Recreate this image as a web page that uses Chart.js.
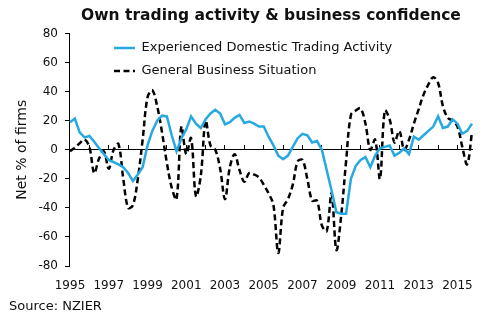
<!DOCTYPE html>
<html>
<head>
<meta charset="utf-8">
<script src="https://cdn.jsdelivr.net/npm/chart.js@4/dist/chart.umd.min.js"></script>
<style>
  html, body { margin: 0; padding: 0; background: #fff; }
  #wrap { width: 488px; height: 321px; }
</style>
</head>
<body>
<div id="wrap"><canvas id="myChart"></canvas></div>
<script>
// quarterly survey, 1995 Q1 - 2015 Q4
var years = [1995, 1996, 1997, 1998, 1999, 2000, 2001, 2002, 2003, 2004, 2005,
             2006, 2007, 2008, 2009, 2010, 2011, 2012, 2013, 2014, 2015];
var quarterNames = ["Q1", "Q2", "Q3", "Q4"];
var tickYears = ["1995", "1997", "1999", "2001", "2003", "2005", "2007", "2009", "2011", "2013", "2015"];

var tradingActivity = [
    19, 21.5, 12, 8.5,      // 1995
    9.5, 5.5, 1, -3,        // 1996
    -7, -8.5, -10, -12,     // 1997
    -16, -21.5, -17, -12,   // 1998
    3, 13, 20, 23.5,        // 1999
    23, 10, -1, 8,          // 2000
    14, 23, 18, 15,         // 2001
    21, 25, 27.5, 25,       // 2002
    17.5, 19, 22, 24,       // 2003
    18.5, 19.5, 18, 16,     // 2004
    16, 9, 3, -4,           // 2005
    -6.5, -4, 2, 8,         // 2006
    11, 10, 5, 6,           // 2007
    0, -14, -28, -43,       // 2008
    -44, -44, -20, -11,     // 2009
    -7, -5, -12, -4,        // 2010
    1, 2, 3, -4,            // 2011
    -2, 1, -3, 9,           // 2012
    7, 10, 13, 16,          // 2013
    23, 15, 16, 21,         // 2014
    18, 11, 13, 18          // 2015
];

var businessSituation = [
    -1, 1.5, 4.5, 7,        // 1995
    2, -16, -6, -1,         // 1996
    -13, 0, 4, -20,         // 1997
    -40, -38, -20, 7,       // 1998
    36, 41, 30, 12,         // 1999
    -9, -26, -34, 16,       // 2000
    -3, 8, -32, -18,        // 2001
    20, 3, 0, -13,          // 2002
    -34, -12, -3, -14,      // 2003
    -22, -16, -17, -19,     // 2004
    -24, -30, -38, -71,     // 2005
    -40, -34, -24, -8,      // 2006
    -7, -20, -35, -35,      // 2007
    -52, -56, -30, -69,     // 2008
    -45, -8, 24, 27,        // 2009
    28.5, 18, 0, 7,         // 2010
    -20, 27, 21, 5,         // 2011
    13, 0, 7, 18,           // 2012
    28, 38, 45, 50,         // 2013
    46, 30, 22, 20,         // 2014
    16, 2, -10, 12          // 2015
];

var labels = [];
years.forEach(function (y) {
    quarterNames.forEach(function (q) { labels.push(y + " " + q); });
});

var font = "'DejaVu Sans', Verdana, sans-serif";

// legend sits inside the plot, a bit in from the y axis
var legendShift = {
    id: "legendShift",
    afterLayout: function (chart) {
        var lg = chart.legend;
        if (!lg) return;
        lg.left = chart.chartArea.left + 34;
        lg.top = chart.chartArea.top - 2;
        lg.bottom = chart.chartArea.bottom;
    }
};

draw();
function draw() {
    var ctx = document.getElementById("myChart");
    var data = {
        labels: labels,
        datasets: [
            {
                label: "Experienced Domestic Trading Activity",
                data: tradingActivity,
                borderColor: "#25A9E0",
                backgroundColor: "#25A9E0",
                borderWidth: 2.5,
                pointRadius: 0,
                tension: 0,
                fill: false
            },
            {
                label: "General Business Situation",
                data: businessSituation,
                borderColor: "#000",
                backgroundColor: "#000",
                borderWidth: 2.5,
                borderDash: [6, 3.5],
                pointRadius: 0,
                tension: 0.35,
                fill: false
            }
        ]
    };

    new Chart(ctx, {
        type: "line",
        data: data,
        plugins: [legendShift],
        options: {
            responsive: true,
            maintainAspectRatio: false,
            animation: false,
            layout: { padding: { left: 9, right: 16, top: 5, bottom: 7 } },
            plugins: {
                title: {
                    display: true,
                    text: "Own trading activity & business confidence",
                    fullSize: false,
                    color: "#111",
                    font: { family: font, size: 15.5, weight: "bold" },
                    padding: { top: 2, bottom: 8 }
                },
                subtitle: {
                    display: true,
                    text: "Source: NZIER",
                    position: "bottom",
                    align: "start",
                    color: "#111",
                    font: { family: font, size: 13 },
                    padding: { top: 0, bottom: 0 }
                },
                legend: {
                    position: "chartArea",
                    align: "start",
                    labels: {
                        usePointStyle: true,
                        pointStyle: "line",
                        pointStyleWidth: 21,
                        padding: 10,
                        color: "#111",
                        font: { family: font, size: 13 },
                        generateLabels: function (chart) {
                            var items = Chart.defaults.plugins.legend.labels.generateLabels(chart);
                            items.forEach(function (it) {
                                var ds = chart.data.datasets[it.datasetIndex];
                                it.lineDash = ds.borderDash || [];
                                it.lineWidth = ds.borderWidth;
                                it.strokeStyle = ds.borderColor;
                            });
                            return items;
                        }
                    }
                },
                tooltip: { enabled: false }
            },
            scales: {
                x: {
                    type: "category",
                    position: "bottom",
                    offset: false,
                    grid: { display: false },
                    border: { display: false },
                    ticks: {
                        autoSkip: false,
                        maxRotation: 0,
                        padding: 5,
                        color: "#111",
                        font: { family: font, size: 12 },
                        callback: function (value, index) {
                            var parts = labels[index].split(" ");
                            if (parts[1] === "Q1" && tickYears.indexOf(parts[0]) >= 0) return parts[0];
                            return "";
                        }
                    }
                },
                xZero: {
                    type: "category",
                    position: { y: 0 },
                    offset: false,
                    border: { display: true, color: "#000", width: 1 },
                    grid: {
                        drawOnChartArea: false,
                        drawTicks: true,
                        tickLength: -5,
                        lineWidth: 1,
                        color: function (c) { return c.index % 4 === 0 ? "#000" : "rgba(0,0,0,0)"; }
                    },
                    ticks: { display: false, autoSkip: false }
                },
                y: {
                    min: -80,
                    max: 80,
                    border: { display: true, color: "#000", width: 1 },
                    grid: { drawOnChartArea: false, drawTicks: true, tickLength: 5, color: "#000" },
                    ticks: {
                        stepSize: 20,
                        padding: 7,
                        color: "#111",
                        font: { family: font, size: 12 }
                    },
                    title: {
                        display: true,
                        text: "Net % of firms",
                        color: "#111",
                        font: { family: font, size: 14 },
                        padding: { top: 4.6, bottom: 1 }
                    }
                }
            }
        }
    });
}
</script>
</body>
</html>
